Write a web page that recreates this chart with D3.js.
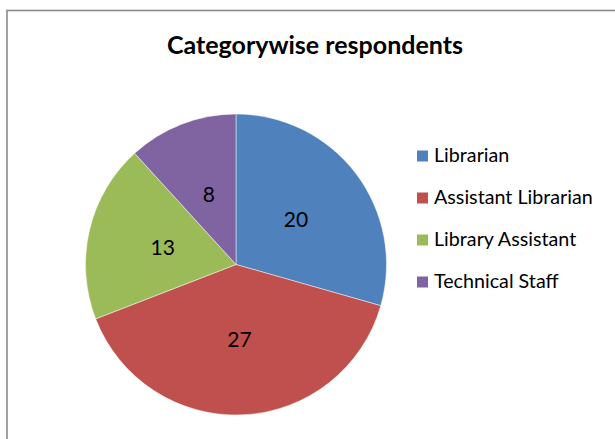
<!DOCTYPE html>
<html>
<head>
<meta charset="utf-8">
<script src="https://cdn.jsdelivr.net/npm/d3@7"></script>
<style>
  html, body { margin: 0; padding: 0; background: #fff; }
  svg { display: block; }
</style>
</head>
<body>
<svg id="chart" width="615" height="439"></svg>
<script>
// Respondents per staff category
const categories = ["Librarian", "Assistant Librarian", "Library Assistant", "Technical Staff"];
const counts = [20, 27, 13, 8];
const colors = ["#4F81BD", "#C0504D", "#9BBB59", "#8064A2"];
const titleText = "Categorywise respondents";

const svg = d3.select("#chart");
const fontFamily = "Lato, 'Open Sans', sans-serif";

// chart area frame
svg.append("rect")
  .attr("x", 7).attr("y", 10.5)
  .attr("width", 700).attr("height", 500)
  .attr("fill", "#fff")
  .attr("stroke", "#8a8a8a")
  .attr("stroke-width", 1.6);

// title
svg.append("text")
  .attr("x", 315).attr("y", 54)
  .attr("text-anchor", "middle")
  .attr("font-family", fontFamily)
  .attr("font-weight", "bold")
  .attr("font-size", 25)
  .attr("fill", "#000")
  .text(titleText);

// pie
const cx = 236, cy = 264.5, R = 150.5;
const data = categories.map((c, i) => ({ name: c, value: counts[i], color: colors[i] }));
const pie = d3.pie().value(d => d.value).sort(null);
const arc = d3.arc().innerRadius(0).outerRadius(R);

const g = svg.append("g").attr("transform", `translate(${cx},${cy})`);
const arcs = pie(data);

g.selectAll("path.slice")
  .data(arcs)
  .join("path")
  .attr("class", "slice")
  .attr("d", arc)
  .attr("fill", d => d.data.color)
  .attr("stroke", "rgba(255,255,255,0.6)")
  .attr("stroke-width", 0.8);

g.selectAll("text.value")
  .data(arcs)
  .join("text")
  .attr("class", "value")
  .attr("transform", d => {
    const [x, y] = arc.centroid(d);
    return `translate(${x},${y})`;
  })
  .attr("text-anchor", "middle")
  .attr("dy", "0.36em")
  .attr("font-family", fontFamily)
  .attr("font-size", 21)
  .attr("fill", "#000")
  .text(d => d.data.value);

// legend
const legend = svg.append("g").attr("transform", "translate(417,0)");
const rowY = d3.scalePoint().domain(categories).range([162, 288]);

const rows = legend.selectAll("g.row")
  .data(data)
  .join("g")
  .attr("class", "row")
  .attr("transform", d => `translate(0,${rowY(d.name)})`);

rows.append("rect")
  .attr("x", 0).attr("y", -11.5)
  .attr("width", 11).attr("height", 11)
  .attr("fill", d => d.color);

rows.append("text")
  .attr("x", 17).attr("y", 0)
  .attr("font-family", fontFamily)
  .attr("font-size", 19.7)
  .attr("fill", "#000")
  .text(d => d.name);
</script>
</body>
</html>
